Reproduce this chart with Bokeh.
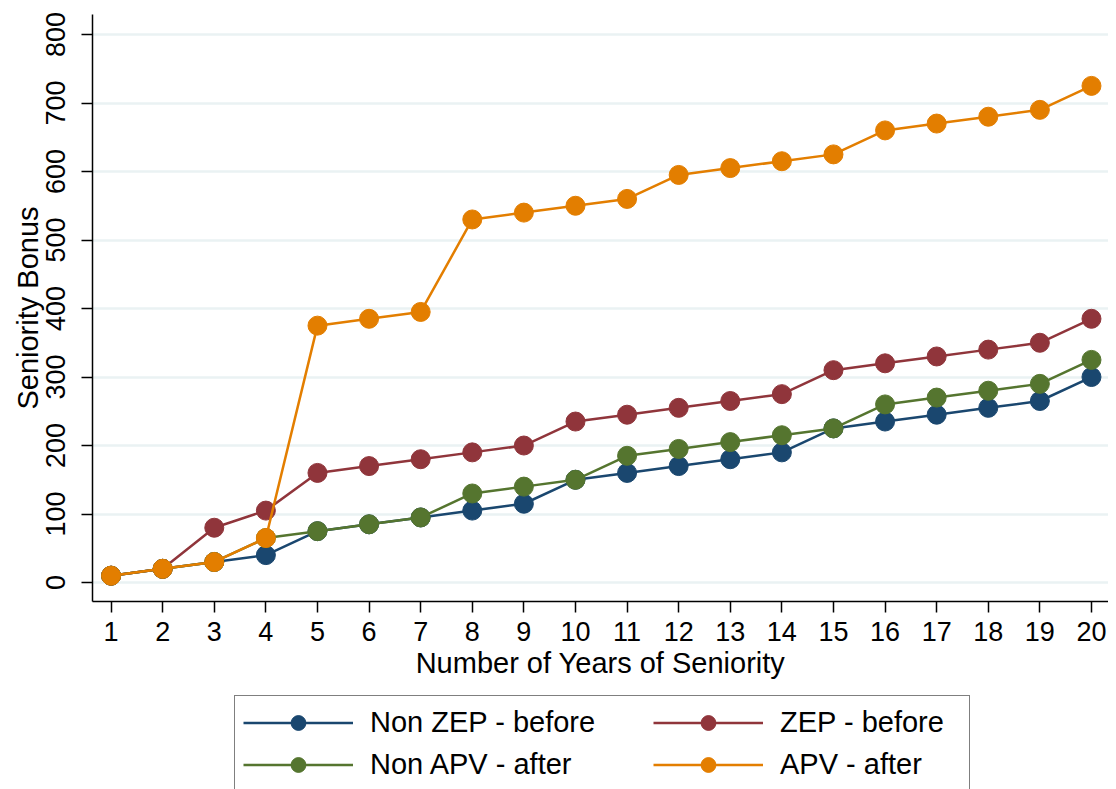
from bokeh.plotting import figure
from bokeh.models import Legend, LegendItem, FixedTicker, Range1d
from bokeh.layouts import column
from bokeh.embed import file_html
from bokeh.resources import INLINE

years = list(range(1, 21))
non_zep_before = [10, 20, 30, 40, 75, 85, 95, 105, 115, 150, 160, 170, 180, 190, 225, 235, 245, 255, 265, 300]
zep_before = [10, 20, 80, 105, 160, 170, 180, 190, 200, 235, 245, 255, 265, 275, 310, 320, 330, 340, 350, 385]
non_apv_after = [10, 20, 30, 65, 75, 85, 95, 130, 140, 150, 185, 195, 205, 215, 225, 260, 270, 280, 290, 325]
apv_after = [10, 20, 30, 65, 375, 385, 395, 530, 540, 550, 560, 595, 605, 615, 625, 660, 670, 680, 690, 725]

series_names = ["Non ZEP - before", "ZEP - before", "Non APV - after", "APV - after"]
series_values = [non_zep_before, zep_before, non_apv_after, apv_after]
colors = ["#1a476f", "#90353b", "#55752f", "#e37e00"]
y_ticks = [0, 100, 200, 300, 400, 500, 600, 700, 800]

FONT = "Liberation Sans"

p = figure(frame_width=1016, frame_height=587, output_backend="svg", toolbar_location=None,
           x_range=Range1d(0.64, 20.33), y_range=Range1d(-27.7, 829.2),
           min_border_left=92, min_border_top=14, min_border_right=0, min_border_bottom=89)
p.outline_line_color = None
p.background_fill_color = "white"
p.border_fill_color = "white"

for name, vals, c in zip(series_names, series_values, colors):
    p.line(years, vals, line_color=c, line_width=2.5)
    p.scatter(years, vals, size=19, fill_color=c, line_color=c, marker="circle")

p.xgrid.visible = False
p.ygrid.grid_line_color = "#eaf2f3"
p.ygrid.grid_line_width = 2.5

for ax in (p.xaxis[0], p.yaxis[0]):
    ax.axis_line_color = "black"
    ax.axis_line_width = 1.5
    ax.major_tick_line_color = "black"
    ax.major_tick_line_width = 1.5
    ax.major_tick_in = 0
    ax.major_tick_out = 11
    ax.minor_tick_line_color = None
    ax.major_label_text_font = FONT
    ax.major_label_text_font_size = "27px"
    ax.major_label_text_color = "black"
    ax.axis_label_text_font = FONT
    ax.axis_label_text_font_size = "29px"
    ax.axis_label_text_font_style = "normal"
    ax.axis_label_text_color = "black"

p.xaxis[0].ticker = FixedTicker(ticks=years)
p.yaxis[0].ticker = FixedTicker(ticks=y_ticks)
p.xaxis[0].axis_label = "Number of Years of Seniority"
p.yaxis[0].axis_label = "Seniority Bonus"
p.yaxis[0].major_label_orientation = "vertical"
p.xaxis[0].major_label_standoff = 9
p.xaxis[0].axis_label_standoff = 3
p.yaxis[0].major_label_standoff = 16
p.yaxis[0].axis_label_standoff = 0

# Legend strip below the chart
lg = figure(width=1108, height=99, output_backend="svg", toolbar_location=None,
            x_axis_type=None, y_axis_type=None,
            x_range=Range1d(100, 200), y_range=Range1d(5000, 6000),
            min_border_left=0, min_border_right=0, min_border_top=0, min_border_bottom=0)
lg.outline_line_color = None
lg.background_fill_color = "white"
lg.border_fill_color = "white"
lg.grid.visible = False

items = []
for name, vals, c in zip(series_names, series_values, colors):
    r1 = lg.line(years, vals, line_color=c, line_width=2.5)
    r2 = lg.scatter(years, vals, size=19, fill_color=c, line_color=c, marker="circle")
    items.append(LegendItem(label=name, renderers=[r1, r2]))

common = dict(label_text_font=FONT, label_text_font_size="29px",
              label_text_color="black", glyph_width=110, glyph_height=37,
              label_standoff=17, spacing=5, padding=8, margin=0)

legend_a = Legend(items=[items[0], items[2]], ncols=1, location=(142, -3),
                  label_width=591, border_line_color="black", border_line_width=1.5,
                  background_fill_color="white", **common)
legend_b = Legend(items=[items[1], items[3]], ncols=1, location=(561, 6),
                  label_width=150, border_line_color=None,
                  background_fill_alpha=0, **common)
lg.add_layout(legend_a, "center")
lg.add_layout(legend_b, "center")

layout = column(p, lg, spacing=0)
open("out.html", "w").write(file_html(layout, INLINE))
